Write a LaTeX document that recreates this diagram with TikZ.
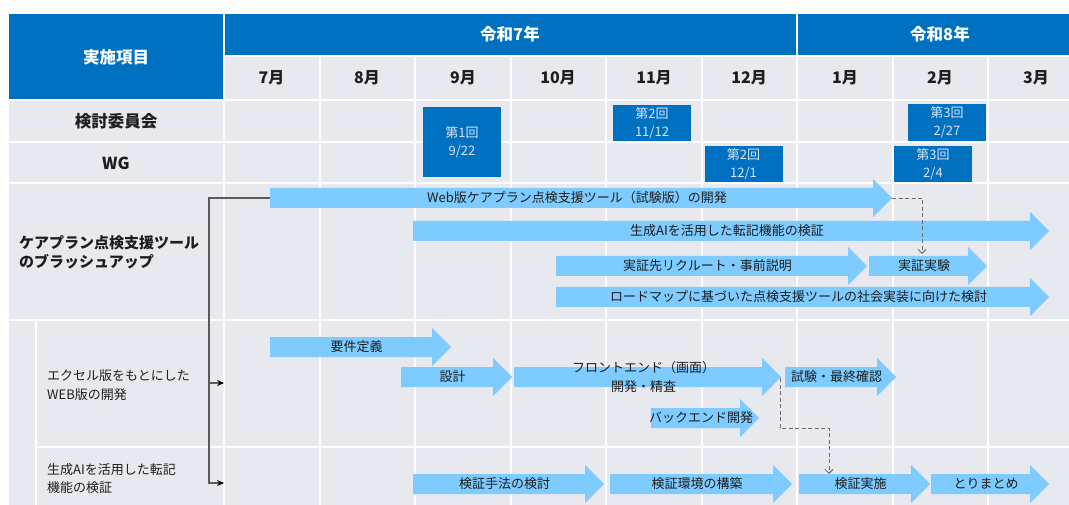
\documentclass[tikz,border=0pt]{standalone}
\usepackage{fontspec}
\setmainfont{Noto Sans CJK JP}
\usetikzlibrary{arrows.meta}
\definecolor{hdrblue}{RGB}{0,112,192}
\definecolor{cellgray}{RGB}{231,233,238}
\definecolor{flowblue}{RGB}{125,203,255}
\definecolor{boxtext}{RGB}{215,228,245}
\definecolor{txt}{RGB}{30,30,30}
\definecolor{linegray}{RGB}{90,90,90}
\definecolor{dashgray}{RGB}{110,110,110}
\tikzset{
  hdr/.style={text=white, font=\fontsize{16.5}{19}\selectfont\bfseries, inner sep=0pt},
  lbl/.style={text=txt, font=\fontsize{16.5}{19}\selectfont\bfseries, inner sep=0pt},
  mon/.style={text=txt, font=\fontsize{16}{19}\selectfont\bfseries, inner sep=0pt},
  mainlbl/.style={text=txt, font=\fontsize{15}{19}\selectfont\bfseries, align=left, anchor=west, inner sep=0pt},
  sublbl/.style={text=txt, font=\fontsize{13}{18.5}\selectfont, align=left, anchor=west, inner sep=0pt},
  meet/.style={fill=hdrblue, text=boxtext, font=\fontsize{13}{18}\selectfont, align=center, inner sep=0pt, minimum width=78pt},
  flowtext/.style={text=txt, font=\fontsize{13}{19}\selectfont, align=center, inner sep=0pt},
  gridline/.style={white, line width=2pt},
  bracketline/.style={linegray, line width=1.1pt},
  bracketarrow/.style={bracketline, -{Stealth[length=7pt,width=6pt,color=black]}},
  dashconn/.style={dashgray, line width=0.9pt, dash pattern=on 4pt off 2.5pt, -{Straight Barb[length=4pt,width=8pt]}},
}
\newcommand\flowarrow[5]{%
  \fill[flowblue] (#2,#4-10) -- (#3-19,#4-10) -- (#3-19,#4-19) -- (#3,#4) -- (#3-19,#4+19) -- (#3-19,#4+10) -- (#2,#4+10) -- cycle;
  \coordinate (#1-s) at (#2,#4);
  \coordinate (#1-t) at (#3,#4);
  \node[flowtext] (#1) at ({(#2+#3)/2-4},#4) {#5};
}
\begin{document}
\begin{tikzpicture}[x=1pt,y=-1pt]
\useasboundingbox (0,0) rectangle (1069,505);
\clip (0,0) rectangle (1069,505);
% backgrounds
\fill[cellgray] (9,14) rectangle (1085,505);
\fill[hdrblue] (9,14) rectangle (224,100);
\fill[hdrblue] (224,14) rectangle (1085,56);
% grid
\draw[gridline] (224,56) -- (1085,56);
\foreach \yy in {100,142,183,320.5} {\draw[gridline] (9,\yy) -- (1085,\yy);}
\draw[gridline] (36,447) -- (1085,447);
\draw[gridline] (224,14) -- (224,505);
\draw[gridline] (797,14) -- (797,505);
\foreach \xx in {319.5,415,510.5,606,701.5,892.5,988} {\draw[gridline] (\xx,56) -- (\xx,505);}
\draw[gridline] (36,320.5) -- (36,505);
% header texts
\node[hdr] (hitem) at (116,57) {実施項目};
\node[hdr] (y7) at (510,34) {令和7年};
\node[hdr] (y8) at (940,34) {令和8年};
\node[mon] (m7) at (271.5,78) {7月};
\node[mon] (m8) at (367,78) {8月};
\node[mon] (m9) at (463,78) {9月};
\node[mon] (m10) at (558,78) {10月};
\node[mon] (m11) at (654,78) {11月};
\node[mon] (m12) at (749,78) {12月};
\node[mon] (m1) at (845,78) {1月};
\node[mon] (m2) at (940,78) {2月};
\node[mon] (m3) at (1036,78) {3月};
% row labels
\node[lbl] (lcom) at (116,121) {検討委員会};
\node[lbl] (lwg) at (116,163) {WG};
\node[mainlbl] (lcare) at (19,252.5) {ケアプラン点検支援ツール\\のブラッシュアップ};
\node[sublbl] (lweb) at (47,385) {エクセル版をもとにした\\WEB版の開発};
\node[sublbl] (lai) at (47,478.5) {生成AIを活用した転記\\機能の検証};
% meetings
\node[meet, minimum height=70pt] (c1) at (462,142) {第1回\\9/22};
\node[meet, minimum height=36pt] (c2) at (652,123) {第2回\\11/12};
\node[meet, minimum height=36pt] (w2) at (743.5,164) {第2回\\12/1};
\node[meet, minimum height=37pt] (c3) at (947,122.5) {第3回\\2/27};
\node[meet, minimum height=36pt] (w3) at (933,164) {第3回\\2/4};
% flow arrows
\flowarrow{web}{270}{892}{198}{Web版ケアプラン点検支援ツール（試験版）の開発}
\flowarrow{ai}{413}{1049}{231}{生成AIを活用した転記機能の検証}
\flowarrow{rec}{556}{867}{266}{実証先リクルート・事前説明}
\flowarrow{exp}{869}{987}{266}{実証実験}
\flowarrow{road}{556}{1049}{297}{ロードマップに基づいた点検支援ツールの社会実装に向けた検討}
\flowarrow{req}{270}{451}{347}{要件定義}
\flowarrow{des}{401}{512}{377}{設計}
\flowarrow{front}{514}{781}{377}{フロントエンド（画面）\\開発・精査}
\flowarrow{test}{785}{896}{377}{試験・最終確認}
\flowarrow{back}{651}{759}{418}{バックエンド開発}
\flowarrow{meth}{413}{604}{484}{検証手法の検討}
\flowarrow{env}{610}{792}{484}{検証環境の構築}
\flowarrow{run}{799}{930}{484}{検証実施}
\flowarrow{sum}{931}{1049}{484}{とりまとめ}
% bracket connector
\coordinate (bx) at (209,0);
\coordinate (sub1) at (224,383);
\coordinate (sub2) at (224,483);
\draw[bracketarrow] (web-s) -- (web-s -| bx) -- (sub2 -| bx) -- (sub2);
\draw[bracketarrow] (sub1 -| bx) -- (sub1);
% dashed connectors
\coordinate (exp-in) at (922,254);
\draw[dashconn] (web-t) -| (exp-in);
\coordinate (front-d) at (780,378);
\coordinate (bendB) at (780,428);
\coordinate (run-in) at (829,474);
\draw[dashconn] (front-d) -- (bendB) -| (run-in);
\end{tikzpicture}
\end{document}
